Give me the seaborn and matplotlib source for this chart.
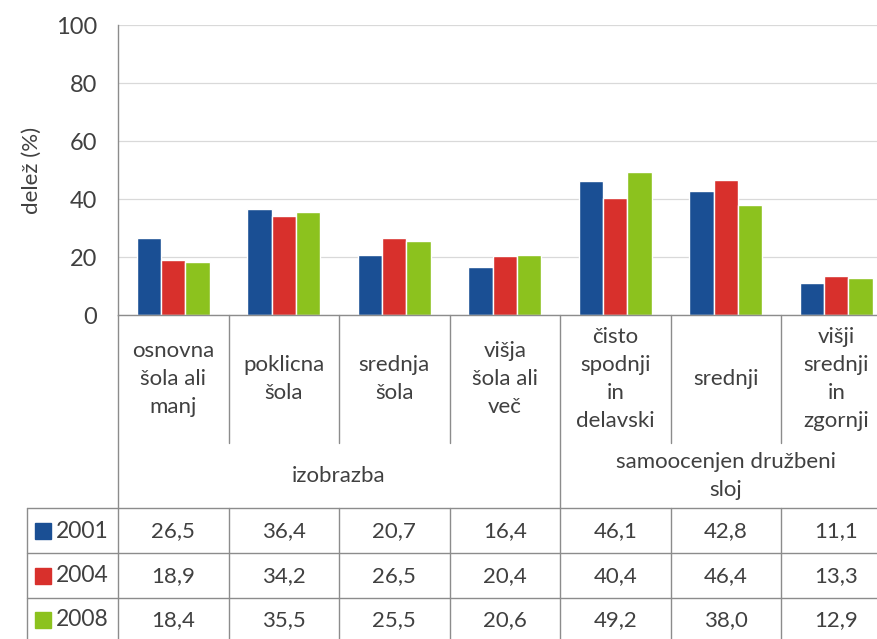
import numpy as np
import pandas as pd
import matplotlib.pyplot as plt
import matplotlib.transforms as mtransforms
from matplotlib.lines import Line2D
from matplotlib.patches import Rectangle
import seaborn as sns

# podatki
kategorije = ["osnovna\nšola ali\nmanj", "poklicna\nšola", "srednja\nšola",
              "višja\nšola ali\nveč", "čisto\nspodnji\nin\ndelavski", "srednji",
              "višji\nsrednji\nin\nzgornji"]
skupine = ["izobrazba", "samoocenjen družbeni\nsloj"]
skupine_obseg = [(0, 3), (4, 6)]
leta = ["2001", "2004", "2008"]
v2001 = [26.5, 36.4, 20.7, 16.4, 46.1, 42.8, 11.1]
v2004 = [18.9, 34.2, 26.5, 20.4, 40.4, 46.4, 13.3]
v2008 = [18.4, 35.5, 25.5, 20.6, 49.2, 38.0, 12.9]
barve = ["#1a4f94", "#d8302c", "#8cc21e"]

vrednosti = [v2001, v2004, v2008]
df = pd.DataFrame({
    "kategorija": np.tile(kategorije, 3),
    "leto": np.repeat(leta, len(kategorije)),
    "delez": np.concatenate(vrednosti),
})

sns.set_style("white")
plt.rcParams["font.family"] = ["Lato", "DejaVu Sans"]
tekst = "#404040"
crta = "#8c8c8c"
fs = 16

W, H = 878, 639
fig = plt.figure(figsize=(W / 100, H / 100), dpi=100)
# os sega cez desni rob slike (kot v originalu)
ax = fig.add_axes([118 / W, 1 - 315 / H, (891.5 - 118) / W, 290 / H])

sns.barplot(data=df, x="kategorija", y="delez", hue="leto", palette=barve,
            width=0.66, saturation=1, legend=False, ax=ax)
ax.set_ylim(0, 100)
ax.set_xlim(-0.5, len(kategorije) - 0.5)
ax.set_yticks(range(0, 101, 20))
ax.tick_params(axis="y", labelsize=fs + 1, colors=tekst, length=7, color=crta, pad=8)
ax.tick_params(axis="x", length=0, labelbottom=False)
ax.set_xlabel("")
ax.set_ylabel("delež (%)", fontsize=fs, color=tekst, labelpad=10)
ax.yaxis.grid(True, color="#d9d9d9", linewidth=0.9)
ax.set_axisbelow(True)
for s in ["top", "right"]:
    ax.spines[s].set_visible(False)
for s in ["left", "bottom"]:
    ax.spines[s].set_color(crta)
    ax.spines[s].set_linewidth(1)

# tabela pod grafom
tr = mtransforms.blended_transform_factory(ax.transData, fig.transFigure)
def fy(py):
    return 1 - py / H

def lin(x0, x1, y0, y1, t=tr):
    fig.add_artist(Line2D([x0, x1], [y0, y1], transform=t, color=crta, lw=1, clip_on=False))

n = len(kategorije)
# navpicne crte
lin(-0.5, -0.5, fy(315), fy(H))
for i in range(n - 1):
    xb = i + 0.5
    meja = any(xb == b + 0.5 for _, b in skupine_obseg[:-1])
    lin(xb, xb, fy(315), fy(H) if meja else fy(443))
    if not meja:
        lin(xb, xb, fy(508), fy(H))
# vodoravne crte
for py in [508, 553, 598]:
    fig.add_artist(Line2D([27 / W, 1], [fy(py), fy(py)], transform=fig.transFigure,
                          color=crta, lw=1))
fig.add_artist(Line2D([27 / W, 27 / W], [fy(508), 0], transform=fig.transFigure,
                      color=crta, lw=1))

# imena kategorij
for i, k in enumerate(kategorije):
    fig.text(i, fy(379), k, transform=tr, ha="center", va="center", fontsize=fs,
             color=tekst, linespacing=1.5)
# imena skupin
for s, (a, b) in zip(skupine, skupine_obseg):
    fig.text((a + b) / 2, fy(476), s, transform=tr, ha="center", va="center",
             fontsize=fs, color=tekst, linespacing=1.5)

# vrstice z vrednostmi
vrstice_y = [531, 576, 620]
for leto, barva, vals, py in zip(leta, barve, vrednosti, vrstice_y):
    fig.add_artist(Rectangle((35 / W, fy(py + 8)), 16 / W, 16 / H,
                             transform=fig.transFigure, color=barva))
    fig.text(56 / W, fy(py), leto, ha="left", va="center", fontsize=fs + 0.5, color=tekst)
    for i, v in enumerate(vals):
        fig.text(i, fy(py), f"{v:.1f}".replace(".", ","), transform=tr,
                 ha="center", va="center", fontsize=fs, color=tekst)

fig.savefig("out.png", dpi=100)
